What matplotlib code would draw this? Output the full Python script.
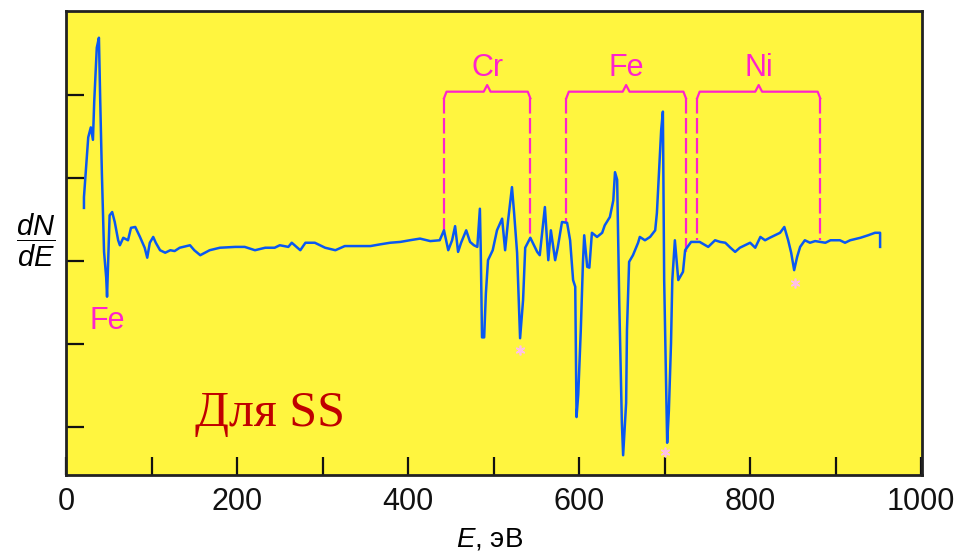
import numpy as np
import matplotlib
matplotlib.use("Agg")
import matplotlib.pyplot as plt

plt.rcParams['font.family'] = ['Liberation Sans', 'DejaVu Sans']
plt.rcParams['mathtext.fontset'] = 'custom'
plt.rcParams['mathtext.it'] = 'Liberation Sans:italic'
plt.rcParams['mathtext.rm'] = 'Liberation Sans'

# спектр оже-электронов (производная dN/dE), энергия в эВ
energia = [21, 21, 23.5, 26, 29, 31.5, 33, 36, 38.5, 40, 42, 44.5, 47, 48, 51, 54, 57, 61,
           63, 67, 72.5, 76, 81, 86.5, 92, 95, 98, 102, 105, 110, 116, 122, 127, 133,
           145, 150, 157, 168, 180, 198, 209, 221, 233, 244, 250, 260, 264, 274, 280,
           291, 303, 315, 326, 344, 356, 367, 379, 391, 402, 414, 426, 437, 442, 447,
           451.5, 455, 458.5, 462, 468, 472.5, 477, 481, 484, 485, 486.5, 489, 491,
           493.5, 499, 504, 510, 513.5, 517, 521.5, 524, 527.5, 531, 534.5, 537, 543,
           551, 554, 560, 564, 567, 572, 575, 580, 586, 589.5, 593, 595.5, 597, 599,
           602, 604.5, 606, 609.5, 612, 615, 621, 627, 630, 636, 640, 642, 644.5, 647,
           650, 651.5, 655, 656, 658.5, 663, 669, 671, 677, 683, 689, 691, 693.5, 696,
           698, 699.5, 703, 705, 707.5, 709, 712, 716, 721.5, 724, 731, 741, 751, 759,
           765, 771, 777, 782.5, 788, 794, 800, 806, 812, 817.5, 823, 829, 835, 840,
           844.5, 848, 851.5, 855, 858.5, 864, 870, 876, 882, 888, 894, 905, 911, 917,
           929, 938, 946, 952, 952]
dNdE = [0.64, 0.77, 1.13, 1.49, 1.61, 1.46, 1.92, 2.57, 2.69, 1.94, 1.04, 0.11, -0.20,
        -0.43, 0.55, 0.59, 0.47, 0.25, 0.19, 0.28, 0.25, 0.40, 0.41, 0.29, 0.16, 0.04,
        0.22, 0.29, 0.22, 0.13, 0.10, 0.13, 0.12, 0.16, 0.19, 0.13, 0.07, 0.13, 0.16,
        0.17, 0.17, 0.13, 0.16, 0.16, 0.19, 0.17, 0.22, 0.13, 0.22, 0.22, 0.16, 0.13,
        0.18, 0.18, 0.18, 0.20, 0.22, 0.23, 0.25, 0.27, 0.24, 0.25, 0.37, 0.13,
        0.25, 0.42, 0.11, 0.22, 0.37, 0.23, 0.19, 0.17, 0.63, 0.13, -0.92, -0.92, -0.39,
        0.01, 0.13, 0.37, 0.51, 0.13, 0.49, 0.89, 0.58, 0.10, -0.93, -0.47, 0.16, 0.28,
        0.11, 0.07, 0.65, 0.01, 0.37, 0.01, 0.16, 0.47, 0.46, 0.25, -0.23, -0.31, -1.88,
        -1.61, -0.83, -0.02, 0.31, -0.07, -0.08, 0.34, 0.29, 0.34, 0.43, 0.53, 0.73,
        1.07, 0.98, -0.51, -1.94, -2.34, -1.71, -0.83, -0.01, 0.07, 0.22, 0.29, 0.25,
        0.29, 0.37, 0.58, 1.07, 1.58, 1.80, -0.23, -2.19, -1.80, -0.99, -0.23, 0.25,
        -0.23, -0.13, 0.13, 0.23, 0.23, 0.17, 0.25,
        0.23, 0.22, 0.16, 0.11, 0.16, 0.19, 0.22, 0.16, 0.29, 0.25, 0.28, 0.31, 0.34,
        0.41, 0.25, 0.10, -0.11, 0.05, 0.17, 0.25, 0.22, 0.24, 0.23, 0.22, 0.25, 0.25,
        0.22, 0.25, 0.28, 0.31, 0.34, 0.34, 0.17]

# группы пиков: элемент, левая и правая граница скобки, уровень сигнала у краев
grupos = ['Cr', 'Fe', 'Ni']
izq = [442, 585, 738]
der = [543, 725, 882]
y_izq = [0.34, 0.47, 0.25]
y_der = [0.29, 0.11, 0.25]

# звездочки под пиками
ast_x = [531, 700.6, 852.6]
ast_y = [-1.07, -2.30, -0.27]

amarillo = '#FFF53F'
azul = '#0A58F2'
magenta = '#FF22CC'

fig = plt.figure(figsize=(9.65, 5.54), dpi=100)
ax = fig.add_axes([66/965, 79/554, 856/965, 464/554])
ax.set_facecolor(amarillo)

ax.plot(energia, dNdE, color=azul, lw=1.8, zorder=3)

# скобки над группами пиков
h = 2.04
for nom, a, b, ya, yb in zip(grupos, izq, der, y_izq, y_der):
    m = (a + b) / 2
    ax.plot([a, a + 3, m - 4, m, m + 4, b - 3, b],
            [h - 0.08, h, h, h + 0.08, h, h, h - 0.08], color=magenta, lw=1.6, zorder=2)
    ax.plot([a, a], [h - 0.08, ya], color=magenta, lw=1.6, dashes=(7, 2), zorder=2)
    ax.plot([b, b], [h - 0.08, yb], color=magenta, lw=1.6, dashes=(7, 2), zorder=2)
    ax.text(m, 2.33, nom, color=magenta, fontsize=22, ha='center', va='center')

ax.text(48, -0.72, 'Fe', color=magenta, fontsize=22, ha='center', va='center')
ax.plot(ast_x, ast_y, ls='none', marker=(6, 2, 0), ms=7, mew=1.2, color='#FFC0E8', zorder=4)

ax.text(151, -1.99, 'Для SS', color='#C00000', fontsize=36,
        family='Liberation Serif', ha='left', va='baseline')

ax.set_xlim(0, 1001)
ax.set_ylim(-2.578, 3.012)
ax.set_xticks(np.arange(0, 1001, 100))
ax.set_xticklabels(['0', '', '200', '', '400', '', '600', '', '800', '', '1000'])
ax.set_yticks([-2, -1, 0, 1, 2])
ax.set_yticklabels([])
ax.tick_params(direction='in', length=13, width=1.6, labelsize=22, pad=9, colors='#111111')

for s in ax.spines.values():
    s.set_linewidth(2)
    s.set_color('#222222')

ax.set_xlabel(r'$E$, эВ', fontsize=20, va='center')
ax.xaxis.set_label_coords(0.495, -0.14)
ax.set_ylabel(r'$\dfrac{dN}{dE}$', fontsize=21, rotation=0, ha='center', va='center')
ax.yaxis.set_label_coords(-0.036, 0.506)

fig.savefig('out.png', dpi=100)
